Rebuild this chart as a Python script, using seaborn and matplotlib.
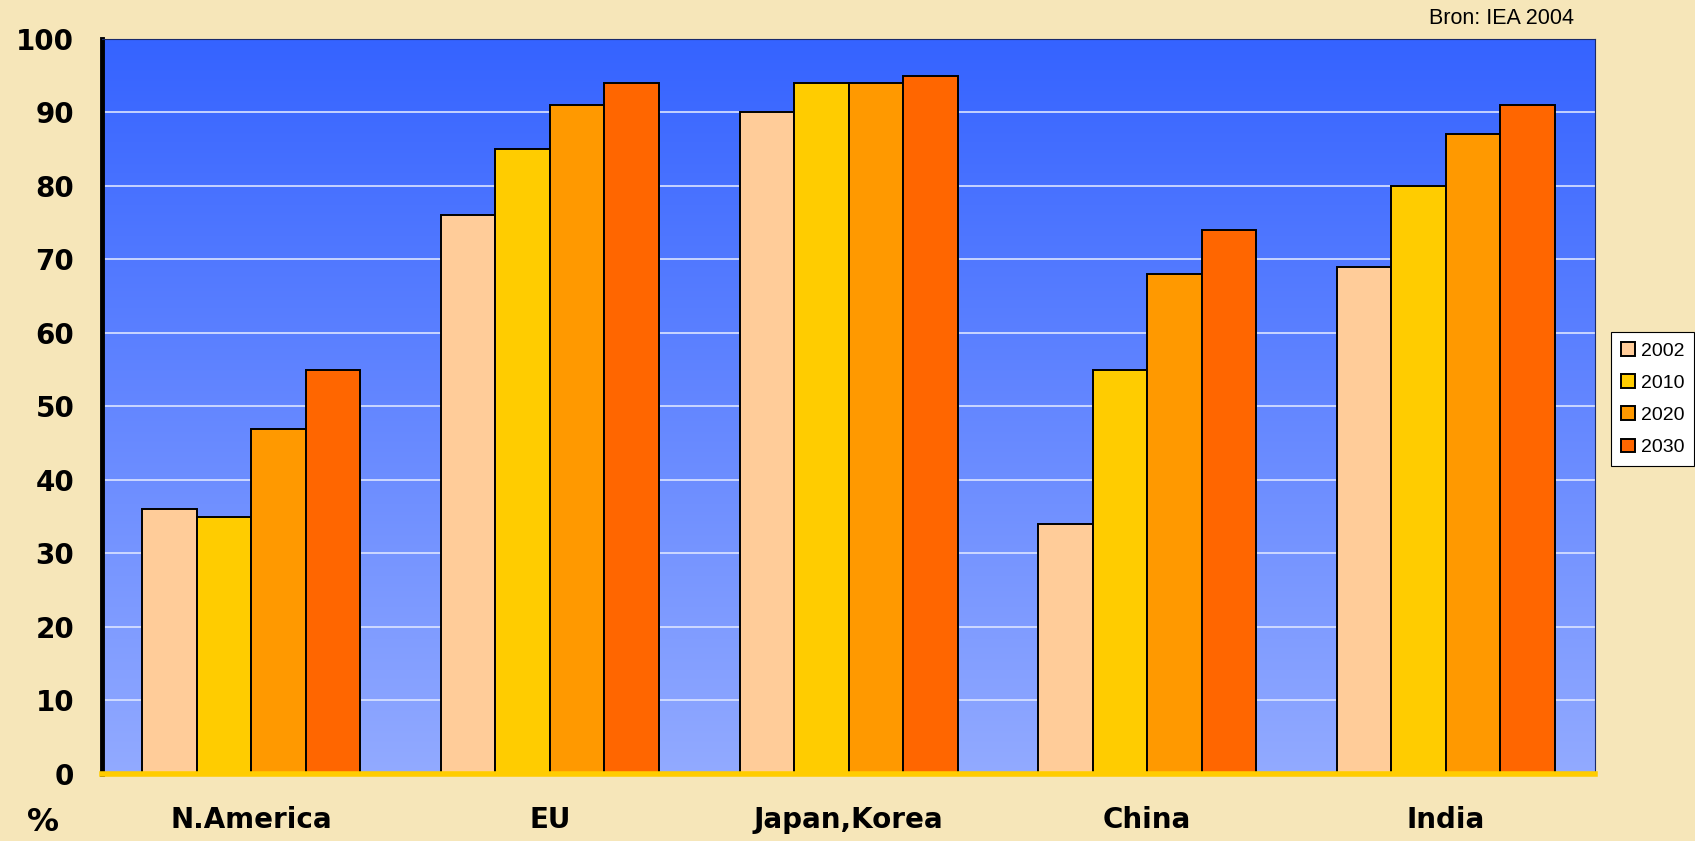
import numpy as np
import pandas as pd
import matplotlib
matplotlib.use("Agg")
import matplotlib.pyplot as plt
from matplotlib.colors import LinearSegmentedColormap
import seaborn as sns

regions = ["N.America", "EU", "Japan,Korea", "China", "India"]
years = ["2002", "2010", "2020", "2030"]
share_2002 = [36, 76, 90, 34, 69]
share_2010 = [35, 85, 94, 55, 80]
share_2020 = [47, 91, 94, 68, 87]
share_2030 = [55, 94, 95, 74, 91]
colors = ["#FFCC99", "#FFCC00", "#FF9900", "#FF6600"]
yticks = list(range(0, 101, 10))

rows = []
for yr, vals in zip(years, [share_2002, share_2010, share_2020, share_2030]):
    for reg, v in zip(regions, vals):
        rows.append({"region": reg, "year": yr, "value": v})
df = pd.DataFrame(rows)

sns.set_style("white")
plt.rcParams["text.color"] = "black"
plt.rcParams["xtick.color"] = "black"
plt.rcParams["ytick.color"] = "black"

bg = "#F6E6B9"
fig = plt.figure(figsize=(16.95, 8.41), dpi=100, facecolor=bg)
ax = fig.add_axes([0.0602, 0.0797, 0.8808, 0.874])

# blue gradient background
grad = LinearSegmentedColormap.from_list("bluegrad", ["#92AAFF", "#3563FF"])
ax.imshow(np.linspace(0, 1, 256).reshape(-1, 1), cmap=grad, origin="lower",
          extent=[-0.5, 4.5, 0, 100], aspect="auto", zorder=0)

for y in yticks[1:-1]:
    ax.axhline(y, color="#DCE4FF", lw=1.2, zorder=1)

sns.barplot(data=df, x="region", y="value", hue="year", palette=colors,
            width=0.73, edgecolor="black", linewidth=1.4, saturation=1,
            ax=ax, zorder=3)

ax.set_xlim(-0.5, 4.5)
ax.set_ylim(0, 100)
ax.set_yticks(yticks)
ax.set_yticklabels([str(t) for t in yticks], fontsize=20, fontweight="bold")
ax.set_xticklabels(regions, fontsize=20, fontweight="bold")
ax.tick_params(axis="y", length=0, pad=20)
ax.tick_params(axis="x", length=0, pad=23)
ax.set_xlabel("")
ax.set_ylabel("")

for side in ["top", "right"]:
    ax.spines[side].set_color("#1a2a6a")
    ax.spines[side].set_linewidth(0.8)
ax.spines["left"].set_color("black")
ax.spines["left"].set_linewidth(3.5)
ax.spines["bottom"].set_color("#FFCC00")
ax.spines["bottom"].set_linewidth(4)
for s in ax.spines.values():
    s.set_zorder(5)

leg = ax.legend(loc="center left", bbox_to_anchor=(1.011, 0.51), borderaxespad=0,
                prop={"family": "Liberation Sans", "size": 14},
                frameon=True, fancybox=False, edgecolor="black", framealpha=1,
                handlelength=0.7, handleheight=0.7, handletextpad=0.3,
                labelspacing=0.75, borderpad=0.5)
leg.get_frame().set_linewidth(0.8)

fig.text(0.0255, 0.004, "%", fontsize=23, fontweight="bold", ha="center", va="bottom")
fig.text(0.8856, 0.978, "Bron: IEA 2004", fontsize=15.5, family="Liberation Sans",
         ha="center", va="center")

fig.savefig("out.png", dpi=100, facecolor=bg)
